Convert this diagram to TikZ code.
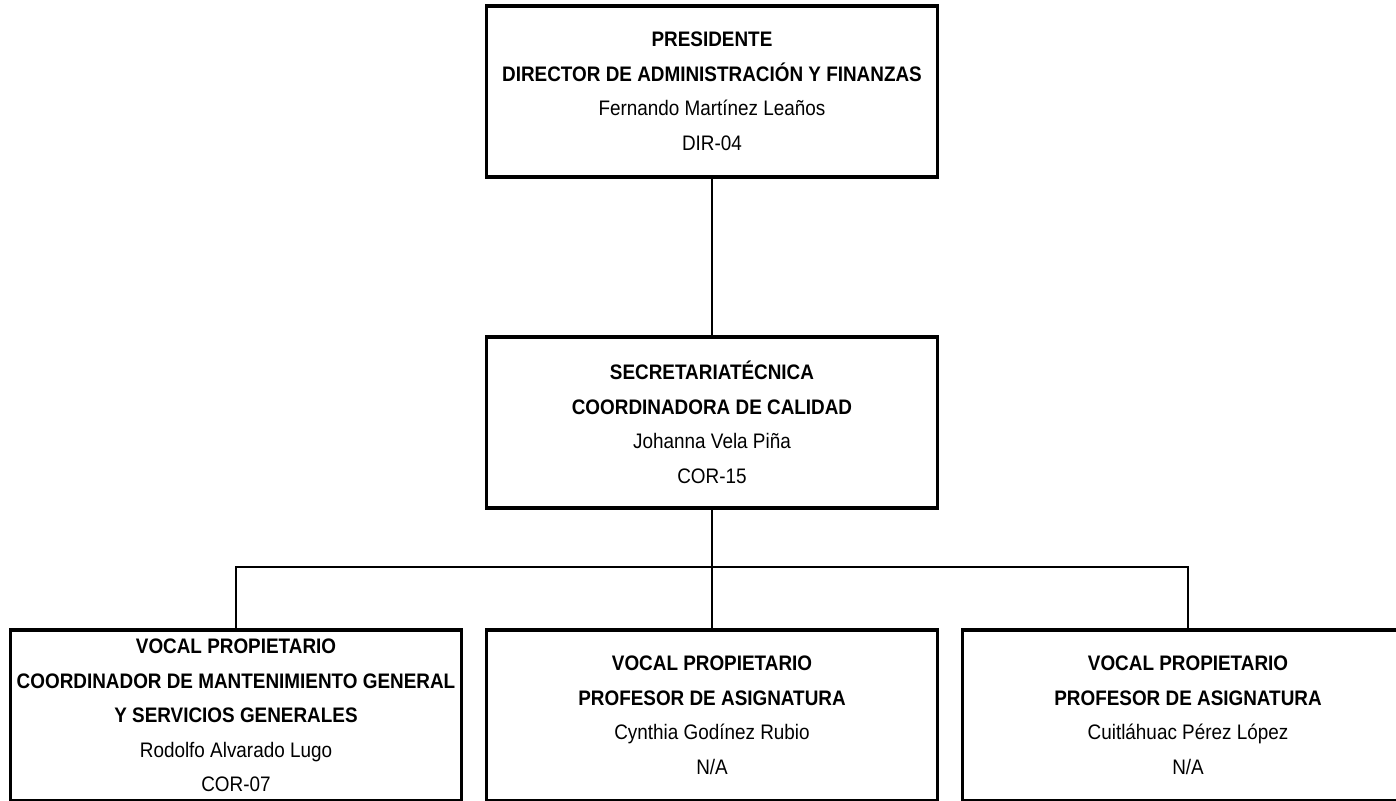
\documentclass[tikz,border=0pt]{standalone}
\usepackage{fontspec}
\setmainfont{Liberation Sans}[FakeStretch=0.9]
\usepackage{tikz}

\begin{document}
\begin{tikzpicture}[x=1pt, y=-1pt,
    puesto/.style={draw, line width=3.5pt, rectangle, minimum width=451pt,
        minimum height=171pt, inner xsep=0pt, align=center,
        font=\fontsize{21}{34.5}\selectfont},
    enlace/.style={line width=1.8pt}]
    \clip (0,0) rectangle (1396,800);
    \fill[white] (0,0) rectangle (1396,800);

    % puestos del comite
    \node[puesto] (pres) at (712,91.5) {\textbf{PRESIDENTE}\\
        \textbf{DIRECTOR DE ADMINISTRACIÓN Y FINANZAS}\\
        Fernando Martínez Leaños\\ DIR-04};
    \node[puesto] (secre) at (712,422.5) {\textbf{SECRETARIATÉCNICA}\\
        \textbf{COORDINADORA DE CALIDAD}\\
        Johanna Vela Piña\\ COR-15};

    % vocales
    \node[puesto] (vocal1) at (236,715.5) {\textbf{VOCAL PROPIETARIO}\\
        \textbf{COORDINADOR DE MANTENIMIENTO GENERAL}\\
        \textbf{Y SERVICIOS GENERALES}\\
        Rodolfo Alvarado Lugo\\ COR-07};
    \node[puesto] (vocal2) at (712,715.5) {\textbf{VOCAL PROPIETARIO}\\
        \textbf{PROFESOR DE ASIGNATURA}\\
        Cynthia Godínez Rubio\\ N/A};
    \node[puesto] (vocal3) at (1188,715.5) {\textbf{VOCAL PROPIETARIO}\\
        \textbf{PROFESOR DE ASIGNATURA}\\
        Cuitláhuac Pérez López\\ N/A};

    % lineas de mando
    \coordinate (bus) at (712,567);
    \draw[enlace] (pres.south) -- (secre.north);
    \draw[enlace] (secre.south) -- (bus);
    \draw[enlace] (vocal1.north) |- (bus) -| (vocal3.north);
    \draw[enlace] (bus) -- (vocal2.north);
\end{tikzpicture}
\end{document}
